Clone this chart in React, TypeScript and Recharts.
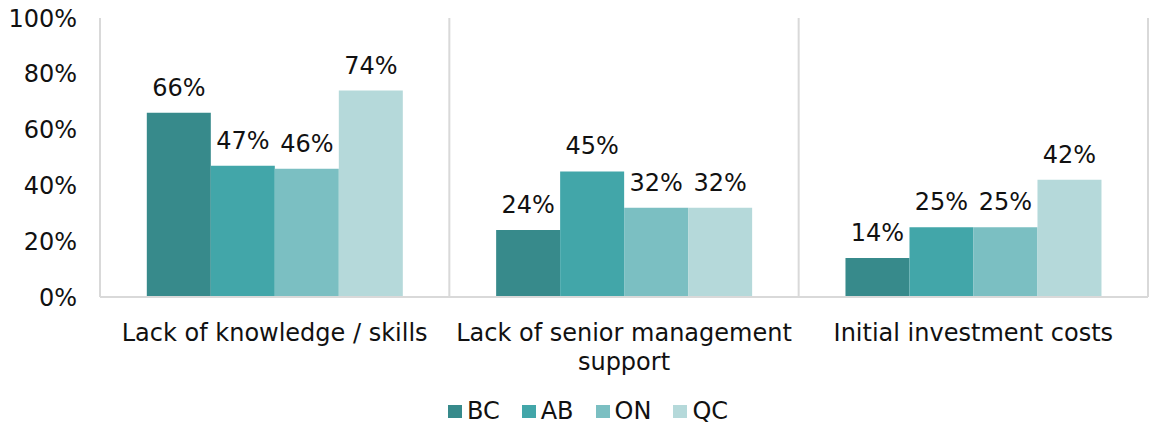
import React from "react";
import {
  BarChart,
  Bar,
  XAxis,
  YAxis,
  CartesianGrid,
  Legend,
  LabelList,
} from "recharts";

const categories = [
  "Lack of knowledge / skills",
  "Lack of senior management support",
  "Initial investment costs",
];
const seriesNames = ["BC", "AB", "ON", "QC"];
const bcValues = [66, 24, 14];
const abValues = [47, 45, 25];
const onValues = [46, 32, 25];
const qcValues = [74, 32, 42];
const yTicks = [0, 20, 40, 60, 80, 100];
const colors = ["#378a8b", "#42a6a9", "#7bbfc2", "#b5d9da"];

const seriesValues = [bcValues, abValues, onValues, qcValues];

const data = categories.map((c, i) => {
  const row: Record<string, string | number> = { name: c };
  seriesNames.forEach((s, j) => {
    row[s] = seriesValues[j][i];
  });
  return row;
});

const FONT = "'DejaVu Sans', Verdana, sans-serif";
const FONT_SIZE = 24;
const TEXT_COLOR = "#111";

let measureCtx: CanvasRenderingContext2D | null = null;
const measure = (s: string) => {
  if (typeof document === "undefined") return s.length * FONT_SIZE * 0.6;
  if (!measureCtx) {
    const c = document.createElement("canvas");
    measureCtx = c.getContext("2d");
  }
  if (!measureCtx) return s.length * FONT_SIZE * 0.6;
  measureCtx.font = `${FONT_SIZE}px 'DejaVu Sans'`;
  return measureCtx.measureText(s).width;
};

const wrapWords = (text: string, maxWidth: number) => {
  const words = text.split(" ");
  const lines: string[] = [];
  let cur = "";
  words.forEach((w) => {
    const t = cur ? cur + " " + w : w;
    if (cur && measure(t) > maxWidth) {
      lines.push(cur);
      cur = w;
    } else {
      cur = t;
    }
  });
  if (cur) lines.push(cur);
  return lines;
};

const CategoryTick = (props: any) => {
  const { x, y, payload } = props;
  const lines = wrapWords(String(payload.value), 340);
  return (
    <text
      x={x}
      y={y + 27}
      textAnchor="middle"
      style={{ fontFamily: FONT, fontSize: FONT_SIZE, fill: TEXT_COLOR }}
    >
      {lines.map((l, i) => (
        <tspan key={i} x={x} dy={i === 0 ? "0.71em" : 29}>
          {l}
        </tspan>
      ))}
    </text>
  );
};

const LegendContent = () => {
  return (
    <div
      style={{
        height: 30,
        display: "flex",
        justifyContent: "center",
        alignItems: "center",
        fontFamily: FONT,
        fontSize: FONT_SIZE,
        color: TEXT_COLOR,
        lineHeight: "30px",
        paddingLeft: 28,
      }}
    >
      {seriesNames.map((s, i) => (
        <div
          key={s}
          style={{
            display: "flex",
            alignItems: "center",
            marginRight: i < seriesNames.length - 1 ? 22 : 0,
          }}
        >
          <span
            style={{
              display: "inline-block",
              width: 14,
              height: 13,
              background: colors[i],
              marginRight: 5,
            }}
          />
          <span>{s}</span>
        </div>
      ))}
    </div>
  );
};

export default function App() {
  return (
    <div style={{ position: "absolute", left: 0, top: 0, background: "#fff" }}>
      <BarChart
        width={1150}
        height={426}
        data={data}
        margin={{ top: 18, right: 2, bottom: 0, left: 0 }}
        barCategoryGap="13.4%"
        barGap={0}
      >
        <CartesianGrid
          horizontal={false}
          vertical={true}
          stroke="#d9d9d9"
          strokeWidth={2}
          verticalCoordinatesGenerator={(p: any) =>
            [0, 1, 2, 3].map((i) => p.offset.left + (i * p.offset.width) / categories.length)
          }
        />
        <XAxis
          dataKey="name"
          axisLine={{ stroke: "#d9d9d9", strokeWidth: 2 }}
          tickLine={false}
          tickSize={0}
          tickMargin={0}
          height={99}
          interval={0}
          tick={<CategoryTick />}
        />
        <YAxis
          domain={[0, 100]}
          ticks={yTicks}
          tickFormatter={(v: number) => `${v}%`}
          axisLine={false}
          tickLine={false}
          tickSize={0}
          tickMargin={23}
          width={100}
          tick={{ fontFamily: FONT, fontSize: FONT_SIZE, fill: TEXT_COLOR }}
        />
        <Legend verticalAlign="bottom" content={<LegendContent />} />
        {seriesNames.map((s, j) => (
          <Bar key={s} dataKey={s} fill={colors[j]} isAnimationActive={false}>
            <LabelList
              dataKey={s}
              position="top"
              offset={17}
              formatter={(v: any) => `${v}%`}
              style={{ fontFamily: FONT, fontSize: FONT_SIZE, fill: TEXT_COLOR }}
            />
          </Bar>
        ))}
      </BarChart>
    </div>
  );
}
